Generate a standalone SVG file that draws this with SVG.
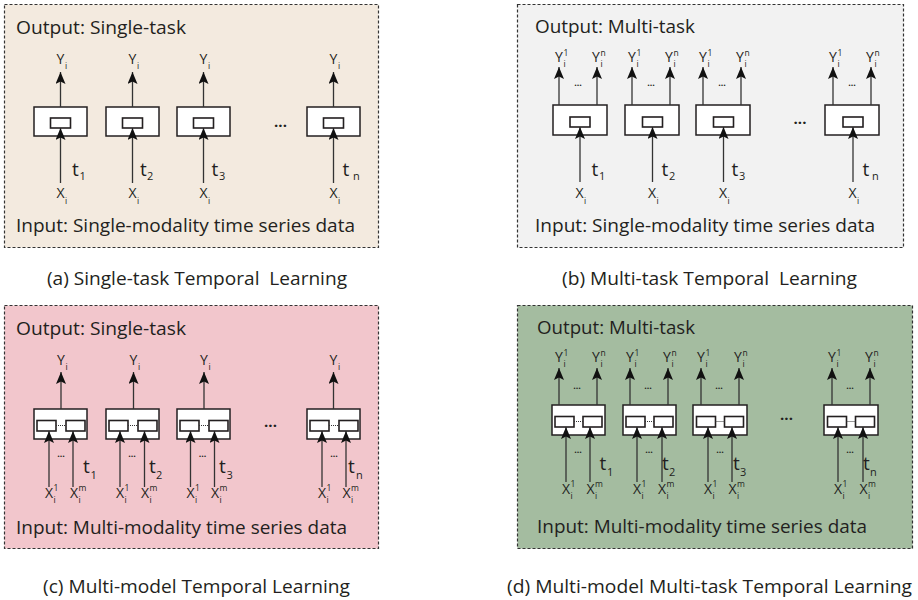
<svg xmlns="http://www.w3.org/2000/svg" width="918" height="600" viewBox="0 0 918 600">
<defs>
<marker id="ah" viewBox="0 0 12 10" refX="12" refY="5" markerWidth="12" markerHeight="10" markerUnits="userSpaceOnUse" orient="auto">
<path d="M0,0 L12,5 L0,10 L2.5,5 Z" fill="#111"/>
</marker>
<style>
.panel{stroke:#333;stroke-width:1.2;stroke-dasharray:3 2}
.box{fill:#fff;stroke:#231f20;stroke-width:1.5}
.in{fill:#fff;stroke:#231f20;stroke-width:1.6}
.ar{stroke:#333;stroke-width:1.3;fill:none;marker-end:url(#ah)}
.dl{stroke:#333;stroke-width:1;stroke-dasharray:1 1}
text{font-family:"Open Sans","Liberation Sans",sans-serif;fill:#231f20}
.tt{font-size:17.5px}
.cap{font-size:17.5px}
.lb{font-size:14px;text-anchor:middle}
.s{font-size:8.5px}
.t{font-size:19px}
.ts{font-size:11px}
.dots{font-size:15px;text-anchor:middle;font-weight:bold}
.sd{font-size:9px;text-anchor:middle;font-weight:bold}
</style>
</defs>
<rect width="918" height="600" fill="#fff"/>

<g id="panel-a"><rect class="panel" x="4.5" y="4.5" width="374" height="243" fill="#f3eadf"/>
<text class="tt" x="16" y="34" textLength="170" lengthAdjust="spacingAndGlyphs">Output: Single-task</text>
<text class="tt" x="16" y="232" textLength="339" lengthAdjust="spacingAndGlyphs">Input: Single-modality time series data</text></g>
<g id="panel-b"><rect class="panel" x="517.5" y="4.5" width="386" height="243" fill="#f2f2f2"/>
<text class="tt" x="535" y="33" textLength="160" lengthAdjust="spacingAndGlyphs">Output: Multi-task</text>
<text class="tt" x="535" y="232" textLength="340" lengthAdjust="spacingAndGlyphs">Input: Single-modality time series data</text></g>
<g id="panel-c"><rect class="panel" x="4.5" y="305.5" width="374" height="243" fill="#f2c6cc"/>
<text class="tt" x="16" y="335" textLength="170" lengthAdjust="spacingAndGlyphs">Output: Single-task</text>
<text class="tt" x="16" y="534" textLength="331" lengthAdjust="spacingAndGlyphs">Input: Multi-modality time series data</text></g>
<g id="panel-d"><rect class="panel" x="517.5" y="305.5" width="395" height="243" fill="#a4bca0"/>
<text class="tt" x="537" y="334" textLength="158" lengthAdjust="spacingAndGlyphs">Output: Multi-task</text>
<text class="tt" x="537" y="533" textLength="330" lengthAdjust="spacingAndGlyphs">Input: Multi-modality time series data</text></g>

<g id="captions">
<text class="cap" x="47" y="285" textLength="300" lengthAdjust="spacingAndGlyphs">(a) Single-task Temporal&#160; Learning</text>
<text class="cap" x="562" y="285" textLength="295" lengthAdjust="spacingAndGlyphs">(b) Multi-task Temporal&#160; Learning</text>
<text class="cap" x="43" y="593" textLength="307" lengthAdjust="spacingAndGlyphs">(c) Multi-model Temporal Learning</text>
<text class="cap" x="507" y="593" textLength="405" lengthAdjust="spacingAndGlyphs">(d) Multi-model Multi-task Temporal Learning</text>
</g>

<g id="a1"><rect class="box" x="34" y="107" width="53" height="29"/><rect class="in" x="50.5" y="118" width="20" height="10"/></g>
<g id="a2"><rect class="box" x="106" y="107" width="53" height="29"/><rect class="in" x="122.5" y="118" width="20" height="10"/></g>
<g id="a3"><rect class="box" x="177" y="107" width="53" height="29"/><rect class="in" x="193.5" y="118" width="20" height="10"/></g>
<g id="a4"><rect class="box" x="307" y="107" width="53" height="29"/><rect class="in" x="323.5" y="118" width="20" height="10"/></g>

<g id="b1"><rect class="box" x="553" y="105" width="54" height="30"/><rect class="in" x="570" y="117" width="20" height="10"/></g>
<g id="b2"><rect class="box" x="625" y="105" width="54" height="30"/><rect class="in" x="642.5" y="117" width="20" height="10"/></g>
<g id="b3"><rect class="box" x="696" y="105" width="54" height="30"/><rect class="in" x="713.5" y="117" width="20" height="10"/></g>
<g id="b4"><rect class="box" x="825" y="105" width="54" height="30"/><rect class="in" x="843" y="117" width="20" height="10"/></g>

<g id="c1"><rect class="box" x="34" y="409" width="53" height="30"/><rect class="in" x="37" y="420.5" width="19" height="10.5"/><rect class="in" x="66" y="420.5" width="19" height="10.5"/><line class="dl" x1="56" y1="425.5" x2="66" y2="425.5"/></g>
<g id="c2"><rect class="box" x="106" y="409" width="53" height="30"/><rect class="in" x="109" y="420.5" width="19" height="10.5"/><rect class="in" x="138" y="420.5" width="19" height="10.5"/><line class="dl" x1="128" y1="425.5" x2="138" y2="425.5"/></g>
<g id="c3"><rect class="box" x="177" y="409" width="53" height="30"/><rect class="in" x="180" y="420.5" width="19" height="10.5"/><rect class="in" x="209" y="420.5" width="19" height="10.5"/><line class="dl" x1="199" y1="425.5" x2="209" y2="425.5"/></g>
<g id="c4"><rect class="box" x="307" y="409" width="53" height="30"/><rect class="in" x="310" y="420.5" width="19" height="10.5"/><rect class="in" x="339" y="420.5" width="19" height="10.5"/><line class="dl" x1="329" y1="425.5" x2="339" y2="425.5"/></g>

<g id="d1"><rect class="box" x="552" y="405" width="53" height="30"/><rect class="in" x="555" y="416.5" width="19" height="10.5"/><rect class="in" x="583" y="416.5" width="19" height="10.5"/><line class="dl" x1="574" y1="421.5" x2="583" y2="421.5"/></g>
<g id="d2"><rect class="box" x="623" y="405" width="53" height="30"/><rect class="in" x="626" y="416.5" width="19" height="10.5"/><rect class="in" x="654" y="416.5" width="19" height="10.5"/><line class="dl" x1="645" y1="421.5" x2="654" y2="421.5"/></g>
<g id="d3"><rect class="box" x="693" y="405" width="54" height="30"/><rect class="in" x="696.5" y="416.5" width="19" height="10.5"/><rect class="in" x="724.5" y="416.5" width="19" height="10.5"/><line class="dl" x1="715.5" y1="421.5" x2="724.5" y2="421.5"/></g>
<g id="d4"><rect class="box" x="824" y="405" width="54" height="30"/><rect class="in" x="827.5" y="416.5" width="19" height="10.5"/><rect class="in" x="855.5" y="416.5" width="19" height="10.5"/><line class="dl" x1="846.5" y1="421.5" x2="855.5" y2="421.5"/></g>

<g id="connectors">
<line class="ar" x1="60.5" y1="107" x2="60.5" y2="72"/><line class="ar" x1="60.5" y1="183" x2="60.5" y2="128"/>
<line class="ar" x1="132.5" y1="107" x2="132.5" y2="72"/><line class="ar" x1="132.5" y1="183" x2="132.5" y2="128"/>
<line class="ar" x1="203.5" y1="107" x2="203.5" y2="72"/><line class="ar" x1="203.5" y1="183" x2="203.5" y2="128"/>
<line class="ar" x1="333.5" y1="107" x2="333.5" y2="72"/><line class="ar" x1="333.5" y1="183" x2="333.5" y2="128"/>

<line class="ar" x1="559" y1="105" x2="559" y2="67"/><line class="ar" x1="597" y1="105" x2="597" y2="67"/><line class="ar" x1="580" y1="182" x2="580" y2="127"/>
<line class="ar" x1="632" y1="105" x2="632" y2="67"/><line class="ar" x1="670" y1="105" x2="670" y2="67"/><line class="ar" x1="652.5" y1="182" x2="652.5" y2="127"/>
<line class="ar" x1="703" y1="105" x2="703" y2="67"/><line class="ar" x1="741" y1="105" x2="741" y2="67"/><line class="ar" x1="723.5" y1="182" x2="723.5" y2="127"/>
<line class="ar" x1="833" y1="105" x2="833" y2="67"/><line class="ar" x1="871" y1="105" x2="871" y2="67"/><line class="ar" x1="853" y1="182" x2="853" y2="127"/>

<line class="ar" x1="61" y1="409" x2="61" y2="372"/><line class="ar" x1="49" y1="487" x2="49" y2="431"/><line class="ar" x1="73" y1="487" x2="73" y2="431"/>
<line class="ar" x1="133.5" y1="409" x2="133.5" y2="372"/><line class="ar" x1="120" y1="487" x2="120" y2="431"/><line class="ar" x1="144.5" y1="487" x2="144.5" y2="431"/>
<line class="ar" x1="204" y1="409" x2="204" y2="372"/><line class="ar" x1="190.5" y1="487" x2="190.5" y2="431"/><line class="ar" x1="214.5" y1="487" x2="214.5" y2="431"/>
<line class="ar" x1="333.5" y1="409" x2="333.5" y2="372"/><line class="ar" x1="322" y1="487" x2="322" y2="431"/><line class="ar" x1="346" y1="487" x2="346" y2="431"/>

<line class="ar" x1="559" y1="405" x2="559" y2="368"/><line class="ar" x1="597" y1="405" x2="597" y2="368"/><line class="ar" x1="566" y1="482" x2="566" y2="427"/><line class="ar" x1="590" y1="482" x2="590" y2="427"/>
<line class="ar" x1="630" y1="405" x2="630" y2="368"/><line class="ar" x1="668" y1="405" x2="668" y2="368"/><line class="ar" x1="637" y1="482" x2="637" y2="427"/><line class="ar" x1="662" y1="482" x2="662" y2="427"/>
<line class="ar" x1="701" y1="405" x2="701" y2="368"/><line class="ar" x1="739" y1="405" x2="739" y2="368"/><line class="ar" x1="708" y1="482" x2="708" y2="427"/><line class="ar" x1="732" y1="482" x2="732" y2="427"/>
<line class="ar" x1="832" y1="405" x2="832" y2="368"/><line class="ar" x1="870" y1="405" x2="870" y2="368"/><line class="ar" x1="838" y1="482" x2="838" y2="427"/><line class="ar" x1="863" y1="482" x2="863" y2="427"/>
</g>

<g id="labels-a">
<text class="lb" x="60.5" y="64">Y</text><text class="s" x="65" y="69">i</text>
<text class="lb" x="132.5" y="64">Y</text><text class="s" x="137" y="69">i</text>
<text class="lb" x="203.5" y="64">Y</text><text class="s" x="208" y="69">i</text>
<text class="lb" x="333.5" y="64">Y</text><text class="s" x="338" y="69">i</text>
<text class="lb" x="60.5" y="198">X</text><text class="s" x="65" y="204">i</text>
<text class="lb" x="132.5" y="198">X</text><text class="s" x="137" y="204">i</text>
<text class="lb" x="203.5" y="198">X</text><text class="s" x="208" y="204">i</text>
<text class="lb" x="333.5" y="198">X</text><text class="s" x="338" y="204">i</text>
<text class="t" x="72" y="176">t</text><text class="ts" x="79.5" y="180">1</text>
<text class="t" x="140" y="176">t</text><text class="ts" x="147" y="180">2</text>
<text class="t" x="211.5" y="176">t</text><text class="ts" x="219" y="180">3</text>
<text class="t" x="342.5" y="176">t</text><text class="ts" x="353" y="180">n</text>
<text class="dots" x="280.5" y="127">...</text>
</g>

<g id="labels-b">
<text class="lb" x="559" y="62">Y</text><text class="s" x="563.5" y="56">1</text><text class="s" x="563.5" y="67">i</text>
<text class="lb" x="596" y="62">Y</text><text class="s" x="600.5" y="56">n</text><text class="s" x="600.5" y="67">i</text>
<text class="lb" x="632" y="62">Y</text><text class="s" x="636.5" y="56">1</text><text class="s" x="636.5" y="67">i</text>
<text class="lb" x="669" y="62">Y</text><text class="s" x="673.5" y="56">n</text><text class="s" x="673.5" y="67">i</text>
<text class="lb" x="703" y="62">Y</text><text class="s" x="707.5" y="56">1</text><text class="s" x="707.5" y="67">i</text>
<text class="lb" x="740" y="62">Y</text><text class="s" x="744.5" y="56">n</text><text class="s" x="744.5" y="67">i</text>
<text class="lb" x="833" y="62">Y</text><text class="s" x="837.5" y="56">1</text><text class="s" x="837.5" y="67">i</text>
<text class="lb" x="870" y="62">Y</text><text class="s" x="874.5" y="56">n</text><text class="s" x="874.5" y="67">i</text>
<text class="sd" x="578" y="86">...</text><text class="sd" x="651" y="86">...</text><text class="sd" x="722" y="86">...</text><text class="sd" x="852" y="86">...</text>
<text class="lb" x="579.5" y="198">X</text><text class="s" x="584" y="204">i</text>
<text class="lb" x="652" y="198">X</text><text class="s" x="656.5" y="204">i</text>
<text class="lb" x="723" y="198">X</text><text class="s" x="727.5" y="204">i</text>
<text class="lb" x="852.5" y="198">X</text><text class="s" x="857" y="204">i</text>
<text class="t" x="591.5" y="176">t</text><text class="ts" x="599" y="180">1</text>
<text class="t" x="661.5" y="176">t</text><text class="ts" x="669" y="180">2</text>
<text class="t" x="731.5" y="176">t</text><text class="ts" x="739" y="180">3</text>
<text class="t" x="862.5" y="176">t</text><text class="ts" x="872" y="180">n</text>
<text class="dots" x="800" y="124">...</text>
</g>

<g id="labels-c">
<text class="lb" x="61" y="365">Y</text><text class="s" x="65.5" y="370">i</text>
<text class="lb" x="133.5" y="365">Y</text><text class="s" x="138" y="370">i</text>
<text class="lb" x="204" y="365">Y</text><text class="s" x="208.5" y="370">i</text>
<text class="lb" x="333.5" y="365">Y</text><text class="s" x="338" y="370">i</text>
<text class="sd" x="61" y="457">...</text><text class="sd" x="132" y="457">...</text><text class="sd" x="202.5" y="457">...</text><text class="sd" x="334" y="457">...</text>
<text class="t" x="83" y="473">t</text><text class="ts" x="90.5" y="479">1</text>
<text class="t" x="149" y="473">t</text><text class="ts" x="156" y="479">2</text>
<text class="t" x="219" y="473">t</text><text class="ts" x="226.5" y="479">3</text>
<text class="t" x="348" y="473">t</text><text class="ts" x="356" y="479">n</text>
<text class="lb" x="49" y="498">X</text><text class="s" x="53.5" y="491">1</text><text class="s" x="53.5" y="503">i</text>
<text class="lb" x="74" y="498">X</text><text class="s" x="78.5" y="491">m</text><text class="s" x="78.5" y="503">i</text>
<text class="lb" x="120" y="498">X</text><text class="s" x="124.5" y="491">1</text><text class="s" x="124.5" y="503">i</text>
<text class="lb" x="145" y="498">X</text><text class="s" x="149.5" y="491">m</text><text class="s" x="149.5" y="503">i</text>
<text class="lb" x="190.5" y="498">X</text><text class="s" x="195" y="491">1</text><text class="s" x="195" y="503">i</text>
<text class="lb" x="215" y="498">X</text><text class="s" x="219.5" y="491">m</text><text class="s" x="219.5" y="503">i</text>
<text class="lb" x="322" y="498">X</text><text class="s" x="326.5" y="491">1</text><text class="s" x="326.5" y="503">i</text>
<text class="lb" x="346.5" y="498">X</text><text class="s" x="351" y="491">m</text><text class="s" x="351" y="503">i</text>
<text class="dots" x="270.5" y="427">...</text>
</g>

<g id="labels-d">
<text class="lb" x="559" y="362">Y</text><text class="s" x="563.5" y="356">1</text><text class="s" x="563.5" y="367">i</text>
<text class="lb" x="596" y="362">Y</text><text class="s" x="600.5" y="356">n</text><text class="s" x="600.5" y="367">i</text>
<text class="lb" x="630" y="362">Y</text><text class="s" x="634.5" y="356">1</text><text class="s" x="634.5" y="367">i</text>
<text class="lb" x="667" y="362">Y</text><text class="s" x="671.5" y="356">n</text><text class="s" x="671.5" y="367">i</text>
<text class="lb" x="701" y="362">Y</text><text class="s" x="705.5" y="356">1</text><text class="s" x="705.5" y="367">i</text>
<text class="lb" x="738" y="362">Y</text><text class="s" x="742.5" y="356">n</text><text class="s" x="742.5" y="367">i</text>
<text class="lb" x="832" y="362">Y</text><text class="s" x="836.5" y="356">1</text><text class="s" x="836.5" y="367">i</text>
<text class="lb" x="869" y="362">Y</text><text class="s" x="873.5" y="356">n</text><text class="s" x="873.5" y="367">i</text>
<text class="sd" x="577" y="389">...</text><text class="sd" x="648" y="389">...</text><text class="sd" x="719" y="389">...</text><text class="sd" x="850" y="389">...</text>
<text class="sd" x="578" y="453">...</text><text class="sd" x="649" y="453">...</text><text class="sd" x="720" y="453">...</text><text class="sd" x="850" y="453">...</text>
<text class="t" x="599.5" y="470">t</text><text class="ts" x="607" y="476">1</text>
<text class="t" x="662" y="470">t</text><text class="ts" x="669" y="476">2</text>
<text class="t" x="733" y="470">t</text><text class="ts" x="740" y="476">3</text>
<text class="t" x="863" y="470">t</text><text class="ts" x="870" y="476">n</text>
<text class="lb" x="566" y="494">X</text><text class="s" x="570.5" y="487">1</text><text class="s" x="570.5" y="499">i</text>
<text class="lb" x="590.5" y="494">X</text><text class="s" x="595" y="487">m</text><text class="s" x="595" y="499">i</text>
<text class="lb" x="637" y="494">X</text><text class="s" x="641.5" y="487">1</text><text class="s" x="641.5" y="499">i</text>
<text class="lb" x="662" y="494">X</text><text class="s" x="666.5" y="487">m</text><text class="s" x="666.5" y="499">i</text>
<text class="lb" x="708" y="494">X</text><text class="s" x="712.5" y="487">1</text><text class="s" x="712.5" y="499">i</text>
<text class="lb" x="732.5" y="494">X</text><text class="s" x="737" y="487">m</text><text class="s" x="737" y="499">i</text>
<text class="lb" x="838" y="494">X</text><text class="s" x="842.5" y="487">1</text><text class="s" x="842.5" y="499">i</text>
<text class="lb" x="863.5" y="494">X</text><text class="s" x="868" y="487">m</text><text class="s" x="868" y="499">i</text>
<text class="dots" x="786.5" y="420">...</text>
</g>
</svg>
